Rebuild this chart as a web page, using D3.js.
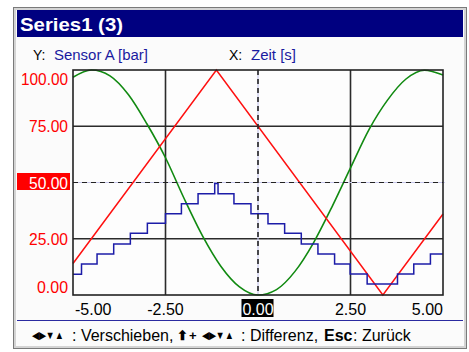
<!DOCTYPE html>
<html><head><meta charset="utf-8">
<script src="https://cdn.jsdelivr.net/npm/d3@7"></script>
<style>
html,body{margin:0;padding:0;background:#fff;}
svg{display:block;}
text{font-family:"Liberation Sans",Arial,sans-serif;}
</style></head>
<body>
<svg id="c" width="469" height="352"></svg>
<script>
// ---- data ----
const xTicks = [-5, -2.5, 0, 2.5, 5];
const yTicks = [0, 25, 50, 75, 100];
const gridX = [-2.5, 2.5];
const gridY = [25, 75];
const cursorX = 0;
const cursorY = 50;

const redX = [-5, -1.125, 3.375, 5];
const redY = [14, 100, 0, 36];

const greenX = [-5, -4.5, -4, -3.5, -3, -2.5, -2, -1.5, -1, -0.5, 0, 0.5, 1, 1.5, 2, 2.5, 3, 3.5, 4, 4.5, 5];
const greenY = [96.8, 100, 97.4, 89.0, 76.0, 61, 43, 26.3, 12.7, 3.6, 0, 2.4, 10.5, 23.2, 39.2, 56.5, 73.5, 86.6, 96.0, 99.9, 97.8];

const blueX = [-5, -4.77, -4.35, -3.9, -3.45, -2.99, -2.5, -2.07, -1.62, -1.17, -1.08, -0.65, -0.19, 0.27, 0.72, 1.17, 1.62, 2.07, 2.49, 2.95, 3.77, 4.21, 4.66, 5];
const blueY = [9.2, 13.8, 18.2, 22.7, 27.4, 31.9, 36.1, 40.6, 45, 49.6, 45, 40.6, 36.1, 31.7, 27.4, 22.7, 18.2, 13.8, 9.3, 4.9, 9.3, 13.8, 18.2, 18.2];

const title = "Series1 (3)";
const yName = "Sensor A [bar]";
const xName = "Zeit [s]";

// ---- drawing ----
const svg = d3.select("#c");
const L = 73, R = 443, T = 70, B = 295;
const x = d3.scaleLinear().domain([-5, 5]).range([L, R]);
const y = d3.scaleLinear().domain([0, 100]).range([B, T]);
const fmt = v => d3.format(".2f")(v).replace("\u2212", "-");

// window frame
svg.append("rect").attr("x", 13.5).attr("y", 7.5).attr("width", 453).attr("height", 341)
  .attr("fill", "#fbfbfb").attr("stroke", "#7a7a7a").attr("stroke-width", 1);
svg.append("rect").attr("x", 15).attr("y", 9).attr("width", 450).attr("height", 338)
  .attr("fill", "none").attr("stroke", "#d4d4d4").attr("stroke-width", 2);
// title bar
svg.append("rect").attr("x", 17).attr("y", 10).attr("width", 446).attr("height", 27).attr("fill", "#000080");
svg.append("text").attr("x", 20).attr("y", 31).attr("fill", "#fff")
  .attr("font-size", 18).attr("font-weight", "bold").attr("textLength", 103).attr("lengthAdjust", "spacingAndGlyphs")
  .text(title);

// axis names
svg.append("text").attr("x", 33).attr("y", 60).attr("font-size", 14).attr("fill", "#000").text("Y:");
svg.append("text").attr("x", 54).attr("y", 60).attr("font-size", 14).attr("fill", "#1a1aa0")
  .attr("textLength", 94).attr("lengthAdjust", "spacingAndGlyphs").text(yName);
svg.append("text").attr("x", 229).attr("y", 60).attr("font-size", 14).attr("fill", "#000").text("X:");
svg.append("text").attr("x", 251).attr("y", 60).attr("font-size", 14).attr("fill", "#1a1aa0")
  .attr("textLength", 45).attr("lengthAdjust", "spacingAndGlyphs").text(xName);

// plot background
svg.append("rect").attr("x", L).attr("y", T).attr("width", R - L).attr("height", B - T).attr("fill", "#fdfdfd");

// grid
const g = svg.append("g");
g.selectAll(".gx").data(gridX).join("line")
  .attr("x1", d => x(d)).attr("x2", d => x(d)).attr("y1", T).attr("y2", B)
  .attr("stroke", "#2b2b2b").attr("stroke-width", 1.6);
g.selectAll(".gy").data(gridY).join("line")
  .attr("y1", d => y(d)).attr("y2", d => y(d)).attr("x1", L).attr("x2", R)
  .attr("stroke", "#2b2b2b").attr("stroke-width", 1.6);

// cursor lines
svg.append("line").attr("x1", L).attr("x2", R + 2).attr("y1", y(cursorY)).attr("y2", y(cursorY))
  .attr("stroke", "#c8c8ec").attr("stroke-width", 1.2);
svg.append("line").attr("x1", x(cursorX)).attr("x2", x(cursorX)).attr("y1", T).attr("y2", B)
  .attr("stroke", "#c8c8ec").attr("stroke-width", 1.2);

// series
const line = d3.line().x(d => x(d[0])).y(d => y(d[1]));
svg.append("path").datum(greenX.map((v, i) => [v, greenY[i]]))
  .attr("d", line.curve(d3.curveMonotoneX)).attr("fill", "none").attr("stroke", "#118a11").attr("stroke-width", 1.6);
svg.append("path").datum(redX.map((v, i) => [v, redY[i]]))
  .attr("d", d3.line().x(d => x(d[0])).y(d => y(d[1]))).attr("fill", "none").attr("stroke", "#ff1010").attr("stroke-width", 1.5);
svg.append("path").datum(blueX.map((v, i) => [v, blueY[i]]))
  .attr("d", d3.line().x(d => x(d[0])).y(d => y(d[1])).curve(d3.curveStepAfter)).attr("fill", "none").attr("stroke", "#1c1ca8").attr("stroke-width", 1.5);

// dashed cursor
svg.append("line").attr("x1", L).attr("x2", R).attr("y1", y(cursorY)).attr("y2", y(cursorY))
  .attr("stroke", "#222").attr("stroke-width", 1.2).attr("stroke-dasharray", "5,4");
svg.append("line").attr("x1", x(cursorX)).attr("x2", x(cursorX)).attr("y1", T).attr("y2", B)
  .attr("stroke", "#222").attr("stroke-width", 1.6).attr("stroke-dasharray", "5,4");

// plot border
svg.append("rect").attr("x", L).attr("y", T).attr("width", R - L).attr("height", B - T)
  .attr("fill", "none").attr("stroke", "#222").attr("stroke-width", 1.6);

// y tick labels
const yLabY = d => Math.min(Math.max(y(d) + 6, T + 15), B - 2);
yTicks.forEach(v => {
  if (v === cursorY) {
    svg.append("rect").attr("x", 17).attr("y", y(v) - 9.5).attr("width", 53).attr("height", 17).attr("fill", "#ff0000");
  }
  const s = fmt(v);
  svg.append("text").attr("x", 68).attr("y", yLabY(v)).attr("text-anchor", "end")
    .attr("font-size", 16).attr("fill", v === cursorY ? "#fff" : "#ff0000")
    .attr("textLength", s.length * 8 - 1).attr("lengthAdjust", "spacingAndGlyphs")
    .text(s);
});

// x tick labels
xTicks.forEach((v, i) => {
  const anchor = i === 0 ? "start" : (i === xTicks.length - 1 ? "end" : "middle");
  const px = i === 0 ? L + 2 : (i === xTicks.length - 1 ? R : x(v));
  if (v === cursorX) {
    svg.append("rect").attr("x", x(v) - 16.5).attr("y", 299).attr("width", 32).attr("height", 18).attr("fill", "#000");
  }
  svg.append("text").attr("x", px).attr("y", 315).attr("text-anchor", anchor)
    .attr("font-size", 16).attr("fill", v === cursorX ? "#fff" : "#000")
    .text(fmt(v));
});

// footer
svg.append("line").attr("x1", 17).attr("x2", 463).attr("y1", 320.5).attr("y2", 320.5).attr("stroke", "#2a2aa0").attr("stroke-width", 1);
const f = svg.append("g").attr("font-size", 16).attr("fill", "#000");
f.append("text").attr("x", 32).attr("y", 339).attr("font-family", "DejaVu Sans").attr("font-size", 11)
  .attr("textLength", 32).attr("lengthAdjust", "spacingAndGlyphs").text("◀▶▼▲");
f.append("text").attr("x", 72).attr("y", 341).text(": Verschieben,");
f.append("text").attr("x", 177).attr("y", 340).attr("font-family", "DejaVu Sans").attr("font-size", 13).attr("font-weight", "bold").text("⬆");
f.append("text").attr("x", 189).attr("y", 340).attr("font-size", 13).attr("font-weight", "bold").text("+");
f.append("text").attr("x", 202).attr("y", 339).attr("font-family", "DejaVu Sans").attr("font-size", 11)
  .attr("textLength", 32).attr("lengthAdjust", "spacingAndGlyphs").text("◀▶▼▲");
f.append("text").attr("x", 241).attr("y", 341).text(": Differenz,");
f.append("text").attr("x", 324).attr("y", 341).attr("font-weight", "bold").text("Esc");
f.append("text").attr("x", 353).attr("y", 341).text(": Zurück");
</script>
</body></html>
